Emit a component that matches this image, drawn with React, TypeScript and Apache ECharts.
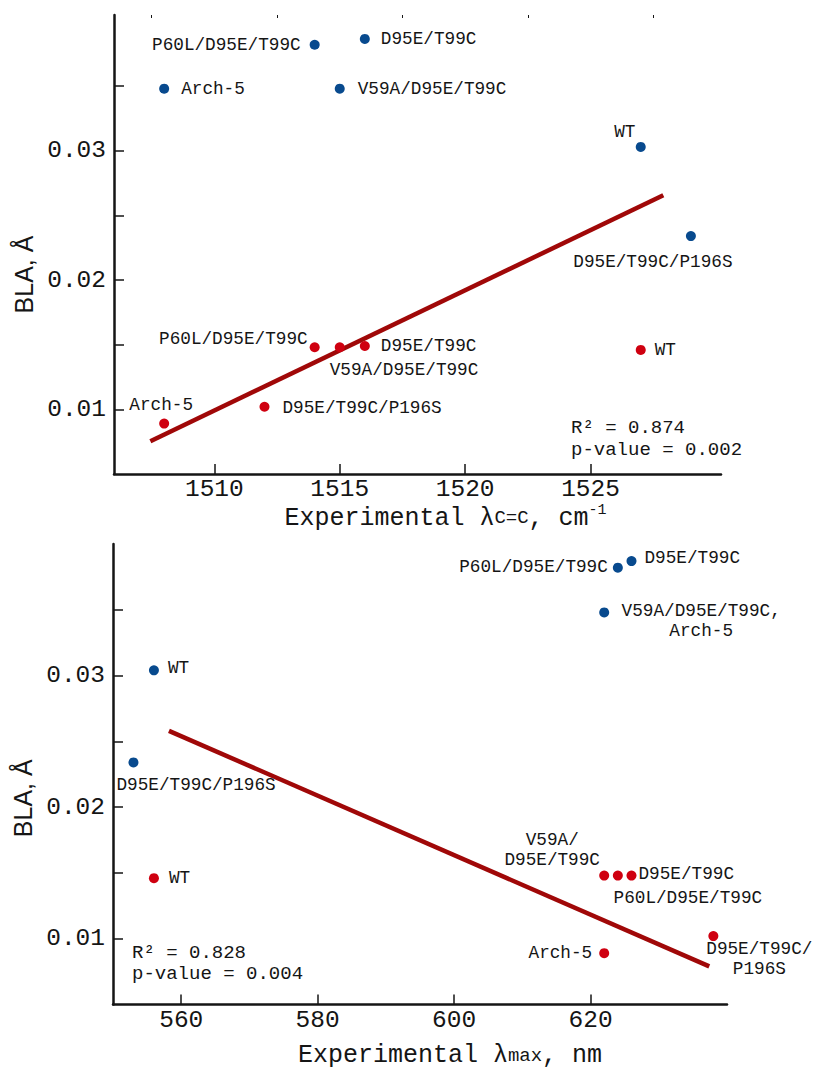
import React, { useEffect, useRef } from "react";
import * as echarts from "echarts";

// ---------- Top panel: BLA vs experimental C=C stretching frequency ----------
const topBlueNames = ["P60L/D95E/T99C", "D95E/T99C", "Arch-5", "V59A/D95E/T99C", "WT", "D95E/T99C/P196S"];
const topBlueX = [1514, 1516, 1508, 1515, 1527, 1529];
const topBlueY = [0.0382, 0.03865, 0.0348, 0.0348, 0.0303, 0.0234];

const topRedNames = ["P60L/D95E/T99C", "V59A/D95E/T99C", "D95E/T99C", "Arch-5", "D95E/T99C/P196S", "WT"];
const topRedX = [1514, 1515, 1516, 1508, 1512, 1527];
const topRedY = [0.0148, 0.0148, 0.0149, 0.0089, 0.0102, 0.0146];

const topFitX = [1507.45, 1527.9];
const topFitY = [0.00753, 0.02656];

const topXTicks = [1510, 1515, 1520, 1525];
const topXMinorTicks = [1507.5, 1512.5, 1517.5, 1522.5, 1527.5];
const topStats = ["R² = 0.874", "p-value = 0.002"];

// ---------- Bottom panel: BLA vs experimental absorption maximum ----------
const botBlueNames = ["WT", "D95E/T99C/P196S", "P60L/D95E/T99C", "D95E/T99C", "V59A/D95E/T99C,\nArch-5"];
const botBlueX = [556, 553, 624, 626, 622];
const botBlueY = [0.0304, 0.0234, 0.0382, 0.0387, 0.0348];

const botRedNames = ["WT", "V59A/\nD95E/T99C", "P60L/D95E/T99C", "D95E/T99C", "Arch-5", "D95E/T99C/\nP196S"];
const botRedX = [556, 622, 624, 626, 622, 638];
const botRedY = [0.0146, 0.0148, 0.0148, 0.0148, 0.0089, 0.0102];

const botFitX = [558.2, 637.4];
const botFitY = [0.0258, 0.0079];

const botXTicks = [560, 580, 600, 620];
const botStats = ["R² = 0.828", "p-value = 0.004"];

// shared y ticks
const yTicks = [0.01, 0.015, 0.02, 0.025, 0.03, 0.035];
const yTickLabels = [0.01, 0.02, 0.03];

// ---------- label placement (style only): [align, dx, dy] ----------
type LP = [string, number, number];
const topBlueLabelPos: LP[] = [["right", -14, 0], ["left", 16, 0], ["left", 17, 0], ["left", 18, 0], ["center", -16, -15], ["center", -38, 26]];
const topRedLabelPos: LP[] = [["right", -7, -8], ["left", -10, 23], ["left", 16, 0], ["center", -3, -19], ["left", 18, 1], ["left", 14, 0]];
const botBlueLabelPos: LP[] = [["left", 14, -2], ["left", -17, 23], ["right", -10, -1], ["left", 13, -3], ["center", 97, 9]];
const botRedLabelPos: LP[] = [["left", 15, 0], ["center", -52, -26], ["center", 70, 22], ["left", 7, -2], ["right", -12, 0], ["center", 46, 23]];

const MONO = "'Liberation Mono', 'DejaVu Sans Mono', monospace";
const SANS = "'Liberation Sans', Arial, sans-serif";
const BLUE = "#084a8e";
const RED = "#cf0010";
const FIT = "#a00808";
const INK = "#151515";

function points(names: string[], xs: number[], ys: number[], lp: LP[]) {
  return names.map((n, i) => ({
    name: n,
    value: [xs[i], ys[i]],
    label: { align: lp[i][0], offset: [lp[i][1], lp[i][2]] },
  }));
}

const scatterBase = {
  type: "scatter",
  symbolSize: 10,
  z: 5,
  label: {
    show: true,
    position: "inside",
    formatter: "{b}",
    fontFamily: MONO,
    fontSize: 17.7,
    lineHeight: 20,
    color: INK,
    verticalAlign: "middle",
  },
};

const axisLineStyle = { show: true, onZero: false, lineStyle: { color: INK, width: 2.5 } };
const tickStyle = { color: INK, width: 1.5 };
const plainNum = (v: number) => String(v);

function xTitle(sub: string, tail: string, sup: string | null) {
  return "{m|Experimental λ}{s|" + sub + "}{m|" + tail + "}" + (sup ? "{p|" + sup + "}" : "");
}
const titleRich = {
  m: { fontFamily: MONO, fontSize: 25, lineHeight: 30, color: INK },
  s: { fontFamily: MONO, fontSize: 19, lineHeight: 30, color: INK },
  p: { fontFamily: MONO, fontSize: 15, lineHeight: 18, color: INK, verticalAlign: "top" },
};

export default function App() {
  const ref = useRef<HTMLDivElement>(null);
  useEffect(() => {
    if (!ref.current) return;
    const chart = echarts.init(ref.current, null, { renderer: "svg" });
    const option: any = {
      animation: false,
      backgroundColor: "#ffffff",
      grid: [
        { left: 114, top: 15, width: 607, height: 459 },
        { left: 113, top: 544, width: 614, height: 461 },
      ],
      xAxis: [
        {
          type: "value",
          gridIndex: 0,
          min: 1506,
          max: 1530.2,
          axisLine: axisLineStyle,
          axisTick: { show: true, inside: true, length: 10, lineStyle: tickStyle, customValues: topXTicks },
          axisLabel: { customValues: topXTicks, formatter: plainNum, fontFamily: MONO, fontSize: 24.5, color: INK, margin: 3 },
          splitLine: { show: false },
          name: xTitle("C=C", ", cm", "-1"),
          nameLocation: "middle",
          nameGap: 29,
          nameTextStyle: { rich: titleRich, padding: [0, 0, 0, 56] },
        },
        {
          type: "value",
          gridIndex: 0,
          min: 1506,
          max: 1530.2,
          axisLine: { show: false },
          axisTick: { show: true, inside: true, length: 3, lineStyle: { color: INK, width: 1 }, customValues: topXMinorTicks },
          axisLabel: { show: false },
          splitLine: { show: false },
        },
        {
          type: "value",
          gridIndex: 1,
          min: 550,
          max: 640,
          axisLine: axisLineStyle,
          axisTick: { show: true, inside: true, length: 10, lineStyle: tickStyle, customValues: botXTicks },
          axisLabel: { customValues: botXTicks, formatter: plainNum, fontFamily: MONO, fontSize: 24.5, color: INK, margin: 3 },
          splitLine: { show: false },
          name: xTitle("max", ", nm", null),
          nameLocation: "middle",
          nameGap: 36,
          nameTextStyle: { rich: titleRich, padding: [0, 0, 0, 60] },
        },
      ],
      yAxis: [
        {
          type: "value",
          gridIndex: 0,
          min: 0.005,
          max: 0.0405,
          axisLine: axisLineStyle,
          axisTick: { show: true, inside: true, length: 10, lineStyle: tickStyle, customValues: yTicks },
          axisLabel: { customValues: yTickLabels, fontFamily: MONO, fontSize: 24.5, color: INK, margin: 8, formatter: (v: number) => v.toFixed(2) },
          splitLine: { show: false },
          name: "BLA, Å",
          nameLocation: "middle",
          nameGap: 76,
          nameTextStyle: { fontFamily: SANS, fontSize: 25, color: INK, padding: [0, 60, 0, 0] },
        },
        {
          type: "value",
          gridIndex: 1,
          min: 0.005,
          max: 0.04,
          axisLine: axisLineStyle,
          axisTick: { show: true, inside: true, length: 10, lineStyle: tickStyle, customValues: yTicks },
          axisLabel: { customValues: yTickLabels, fontFamily: MONO, fontSize: 24.5, color: INK, margin: 8, formatter: (v: number) => v.toFixed(2) },
          splitLine: { show: false },
          name: "BLA, Å",
          nameLocation: "middle",
          nameGap: 76,
          nameTextStyle: { fontFamily: SANS, fontSize: 25, color: INK, padding: [0, 48, 0, 0] },
        },
      ],
      series: [
        {
          type: "line",
          xAxisIndex: 0,
          yAxisIndex: 0,
          z: 2,
          symbol: "none",
          lineStyle: { color: FIT, width: 4.5 },
          data: topFitX.map((x, i) => [x, topFitY[i]]),
        },
        {
          ...scatterBase,
          xAxisIndex: 0,
          yAxisIndex: 0,
          itemStyle: { color: BLUE, opacity: 1 },
          data: points(topBlueNames, topBlueX, topBlueY, topBlueLabelPos),
        },
        {
          ...scatterBase,
          xAxisIndex: 0,
          yAxisIndex: 0,
          itemStyle: { color: RED, opacity: 1 },
          data: points(topRedNames, topRedX, topRedY, topRedLabelPos),
        },
        {
          type: "line",
          xAxisIndex: 2,
          yAxisIndex: 1,
          z: 2,
          symbol: "none",
          lineStyle: { color: FIT, width: 4.5 },
          data: botFitX.map((x, i) => [x, botFitY[i]]),
        },
        {
          ...scatterBase,
          xAxisIndex: 2,
          yAxisIndex: 1,
          itemStyle: { color: BLUE, opacity: 1 },
          data: points(botBlueNames, botBlueX, botBlueY, botBlueLabelPos),
        },
        {
          ...scatterBase,
          xAxisIndex: 2,
          yAxisIndex: 1,
          itemStyle: { color: RED, opacity: 1 },
          data: points(botRedNames, botRedX, botRedY, botRedLabelPos),
        },
      ],
      graphic: [
        {
          type: "text",
          left: 571,
          top: 417,
          style: { text: topStats.join("\n"), fontFamily: MONO, fontSize: 19, lineHeight: 22, fill: INK },
        },
        {
          type: "text",
          left: 132,
          top: 942,
          style: { text: botStats.join("\n"), fontFamily: MONO, fontSize: 19, lineHeight: 21, fill: INK },
        },
      ],
    };
    chart.setOption(option);
    return () => chart.dispose();
  }, []);
  return (
    <div
      ref={ref}
      style={{ position: "absolute", left: 0, top: 0, width: 816, height: 1069, background: "#fff" }}
    />
  );
}
